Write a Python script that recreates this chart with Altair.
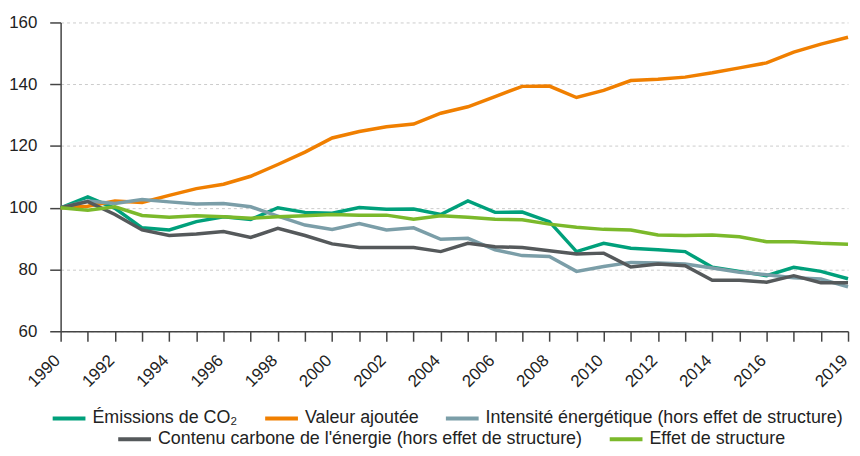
import altair as alt
import pandas as pd

years = list(range(1990, 2020))
emissions = [100, 103.5, 99.8, 93.5, 92.8, 95.5, 97.1, 96.2, 100.0, 98.5,
             98.2, 100.1, 99.5, 99.6, 97.8, 102.2, 98.5, 98.6, 95.5, 85.8,
             88.5, 86.9, 86.4, 85.8, 80.7, 79.4, 78.0, 80.7, 79.4, 77.0]
valeur = [100, 100.5, 102.2, 101.7, 104.0, 106.2, 107.6, 110.2, 114.0, 118.0,
          122.6, 124.7, 126.2, 127.1, 130.6, 132.7, 136.0, 139.3, 139.4, 135.7,
          138.0, 141.2, 141.6, 142.3, 143.7, 145.3, 146.9, 150.4, 153.0, 155.2]
intensite = [100, 102.2, 101.4, 102.7, 101.9, 101.2, 101.4, 100.3, 97.3, 94.4,
             93.0, 94.9, 92.8, 93.5, 89.8, 90.1, 86.4, 84.5, 84.2, 79.4,
             81.0, 82.3, 82.1, 81.8, 80.5, 79.1, 78.3, 77.3, 76.9, 74.4]
contenu = [100, 102.0, 97.8, 92.8, 91.0, 91.5, 92.3, 90.4, 93.3, 91.0,
           88.3, 87.1, 87.1, 87.1, 85.8, 88.5, 87.4, 87.1, 86.1, 85.0,
           85.3, 80.8, 81.8, 81.2, 76.5, 76.5, 75.9, 78.0, 75.7, 75.7]
structure = [100, 99.2, 100.3, 97.5, 96.9, 97.4, 97.1, 96.6, 97.1, 97.4,
             97.8, 97.6, 97.6, 96.3, 97.4, 96.9, 96.3, 96.1, 94.7, 93.7,
             93.0, 92.8, 91.2, 91.0, 91.2, 90.6, 89.0, 89.0, 88.5, 88.2]

names_a = ["Émissions de CO₂", "Valeur ajoutée",
           "Intensité énergétique (hors effet de structure)"]
names_b = ["Contenu carbone de l'énergie (hors effet de structure)",
           "Effet de structure"]
colors_a = ["#00a07b", "#f07f00", "#7b9ea8"]
colors_b = ["#55595b", "#7bb92b"]
y_ticks = [60, 80, 100, 120, 140, 160]
labelled_years = [1990, 1992, 1994, 1996, 1998, 2000, 2002, 2004, 2006, 2008,
                  2010, 2012, 2014, 2016, 2019]

def long(names, series):
    rows = []
    for n, s in zip(names, series):
        for yr, v in zip(years, s):
            rows.append({"annee": yr, "valeur": v, "serie": n})
    return pd.DataFrame(rows)

df_a = long(names_a, [emissions, valeur, intensite])
df_b = long(names_b, [contenu, structure])

label_expr = "indexof(" + str(labelled_years) + ", datum.value) >= 0 ? datum.value : ''"

x = alt.X("annee:Q", title=None,
          scale=alt.Scale(domain=[1990, 2019], nice=False, zero=False),
          axis=alt.Axis(values=years, grid=False, labelAngle=-45,
                        labelAlign="right", labelBaseline="alphabetic",
                        labelExpr=label_expr,
                        labelOverlap=False, labelFontSize=17, labelPadding=20,
                        tickSize=10, tickColor="#444", domainColor="#444",
                        domainWidth=1.5, tickWidth=1.5, labelColor="#222"))
y = alt.Y("valeur:Q", title=None,
          scale=alt.Scale(domain=[60, 160], nice=False, zero=False),
          axis=alt.Axis(values=y_ticks, grid=True, gridDash=[3, 3], gridColor="#cccccc",
                        labelFontSize=17, labelPadding=13, tickSize=11,
                        tickColor="#444", domainColor="#444", domainWidth=1.5,
                        tickWidth=1.5, labelColor="#222"))

common_legend = dict(orient="none", direction="horizontal", title=None,
                     symbolType="stroke", symbolSize=1089, symbolStrokeWidth=4,
                     labelFontSize=18, labelOffset=5, columnPadding=19,
                     labelLimit=1000, labelColor="#222", padding=0)

layer_a = alt.Chart(df_a).mark_line(strokeWidth=3.5).encode(
    x=x, y=y,
    color=alt.Color("serie:N", scale=alt.Scale(domain=names_a, range=colors_a),
                    legend=alt.Legend(legendX=-10, legendY=380, **common_legend)),
)
layer_b = alt.Chart(df_b).mark_line(strokeWidth=3.5).encode(
    x=x, y=y,
    color=alt.Color("serie:N", scale=alt.Scale(domain=names_b, range=colors_b),
                    legend=alt.Legend(legendX=56, legendY=401, **common_legend)),
)

chart = alt.layer(layer_a, layer_b).resolve_scale(color="independent").properties(
    width=793, height=311,
    autosize=alt.AutoSizeParams(type="none"),
    padding={"left": 53, "top": 13, "right": 4, "bottom": 116},
).configure(font="Liberation Sans").configure_view(stroke=None)

chart.save("out.html", embed_options={"renderer": "svg", "actions": False})
